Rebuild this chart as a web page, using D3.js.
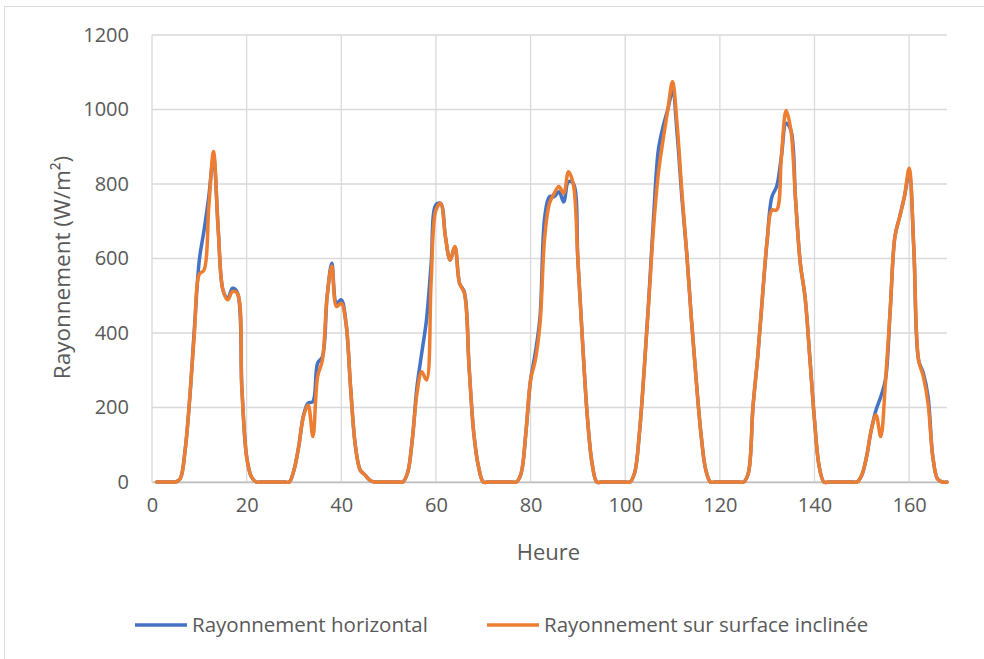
<!DOCTYPE html>
<html>
<head>
<meta charset="utf-8">
<script src="https://cdn.jsdelivr.net/npm/d3@7"></script>
<style>
  body { margin: 0; background: #fff; }
  text { font-family: "Open Sans", "Liberation Sans", sans-serif; fill: #595959; }
</style>
</head>
<body>
<svg id="chart" width="984" height="659"></svg>
<script>
// hours 1..168
var hours = d3.range(1, 169);

// Rayonnement horizontal (W/m²)
var horizontal = [
  0, 0, 0, 0, 0, 10, 86, 229, 420, 596, 676, 766, 872, 676, 515, 492, 520, 510, 250, 68, 14, 0, 0, 0,
  0, 0, 0, 0, 0, 32, 95, 178, 212, 216, 319, 336, 497, 587, 480, 489, 426, 247, 95, 32, 19, 5, 0, 0,
  0, 0, 0, 0, 0, 24, 113, 256, 346, 435, 587, 744, 748, 659, 596, 630, 533, 510, 310, 131, 41, 0, 0, 0,
  0, 0, 0, 0, 0, 23, 131, 274, 346, 444, 712, 766, 766, 779, 752, 806, 802, 596, 372, 175, 50, 0, 0, 0,
  0, 0, 0, 0, 0, 25, 131, 300, 495, 712, 891, 954, 1000, 1048, 930, 760, 614, 435, 274, 131, 34, 0, 0, 0,
  0, 0, 0, 0, 0, 23, 202, 336, 497, 650, 766, 793, 873, 963, 945, 757, 587, 497, 336, 166, 41, 0, 0, 0,
  0, 0, 0, 0, 0, 19, 68, 140, 193, 229, 275, 462, 659, 712, 766, 829, 623, 327, 292, 229, 68, 8, 0, 0
];

// Rayonnement sur surface inclinée (W/m²)
var inclinee = [
  0, 0, 0, 0, 0, 10, 86, 229, 408, 558, 569, 739, 887, 676, 515, 489, 511, 507, 247, 68, 14, 0, 0, 0,
  0, 0, 0, 0, 0, 32, 95, 175, 207, 122, 283, 327, 497, 580, 471, 480, 426, 247, 95, 32, 19, 5, 0, 0,
  0, 0, 0, 0, 0, 24, 113, 238, 296, 274, 542, 730, 748, 659, 596, 632, 533, 507, 310, 131, 41, 0, 0, 0,
  0, 0, 0, 0, 0, 23, 131, 274, 327, 426, 659, 748, 775, 793, 775, 833, 802, 596, 372, 175, 50, 0, 0, 0,
  0, 0, 0, 0, 0, 25, 131, 300, 489, 685, 828, 918, 1000, 1075, 954, 775, 614, 435, 274, 131, 34, 0, 0, 0,
  0, 0, 0, 0, 0, 23, 202, 336, 497, 650, 730, 730, 873, 997, 945, 757, 587, 497, 336, 166, 41, 0, 0, 0,
  0, 0, 0, 0, 0, 19, 68, 140, 180, 122, 270, 462, 659, 712, 766, 842, 623, 327, 283, 211, 68, 8, 0, 0
];

var xTicks = [0, 20, 40, 60, 80, 100, 120, 140, 160];
var yTicks = [0, 200, 400, 600, 800, 1000, 1200];
var seriesNames = ["Rayonnement horizontal", "Rayonnement sur surface inclinée"];
var seriesColors = ["#4472C4", "#ED7D31"];

var margin = { top: 35, left: 152, right: 37, bottom: 177 };
var svgWidth = 984, svgHeight = 659;
var width = svgWidth - margin.left - margin.right;
var height = svgHeight - margin.top - margin.bottom;

var svg = d3.select("#chart");

// outer chart frame
svg.append("rect")
  .attr("x", 4.5).attr("y", 6.5)
  .attr("width", 990).attr("height", 660)
  .attr("fill", "none").attr("stroke", "#d9d9d9").attr("stroke-width", 1);

var x = d3.scaleLinear().domain([0, 168]).range([0, width]);
var y = d3.scaleLinear().domain([0, 1200]).range([height, 0]);

var g = svg.append("g")
  .attr("transform", "translate(" + margin.left + "," + margin.top + ")");

// gridlines
g.append("g").selectAll("line.h")
  .data(yTicks).enter().append("line")
  .attr("x1", 0).attr("x2", width)
  .attr("y1", function(d) { return y(d); }).attr("y2", function(d) { return y(d); })
  .attr("stroke", "#d9d9d9").attr("stroke-width", 1.3);

g.append("g").selectAll("line.v")
  .data(xTicks).enter().append("line")
  .attr("x1", function(d) { return x(d); }).attr("x2", function(d) { return x(d); })
  .attr("y1", 0).attr("y2", height)
  .attr("stroke", "#d9d9d9").attr("stroke-width", 1.3);

// axes
var xAxis = d3.axisBottom(x).tickValues(xTicks).tickFormat(d3.format("d")).tickSize(0).tickPadding(16);
var yAxis = d3.axisLeft(y).tickValues(yTicks).tickFormat(d3.format("d")).tickSize(0).tickPadding(23);

var gx = g.append("g").attr("transform", "translate(0," + height + ")").call(xAxis);
gx.select(".domain").attr("stroke", "#bfbfbf").attr("stroke-width", 1.3);
gx.selectAll("text").style("font-size", "20px").style("fill", "#595959");

var gy = g.append("g").call(yAxis);
gy.select(".domain").remove();
gy.selectAll("text").style("font-size", "20px").style("fill", "#595959");

// axis titles
svg.append("text")
  .attr("x", margin.left + width / 2 - 1).attr("y", 560)
  .attr("text-anchor", "middle").style("font-size", "22px")
  .text("Heure");

svg.append("text")
  .attr("transform", "translate(70," + (margin.top + height / 2 + 9) + ") rotate(-90)")
  .attr("text-anchor", "middle").style("font-size", "22.5px")
  .text("Rayonnement (W/m²)");

// lines
var line = d3.line()
  .x(function(d) { return x(d[0]); })
  .y(function(d) { return y(d[1]); })
  .curve(d3.curveCatmullRom.alpha(0.5));

[horizontal, inclinee].forEach(function(vals, i) {
  g.append("path")
    .datum(hours.map(function(h, k) { return [h, vals[k]]; }))
    .attr("fill", "none")
    .attr("stroke", seriesColors[i])
    .attr("stroke-width", 3.5)
    .attr("stroke-linejoin", "round")
    .attr("stroke-linecap", "round")
    .attr("d", line);
});

// legend
var legendX = [135, 487];
var legend = svg.append("g");
seriesNames.forEach(function(name, i) {
  legend.append("line")
    .attr("x1", legendX[i]).attr("x2", legendX[i] + 52)
    .attr("y1", 625).attr("y2", 625)
    .attr("stroke", seriesColors[i]).attr("stroke-width", 3.5);
  legend.append("text")
    .attr("x", legendX[i] + 57).attr("y", 632)
    .style("font-size", "20.5px")
    .text(name);
});
</script>
</body>
</html>
